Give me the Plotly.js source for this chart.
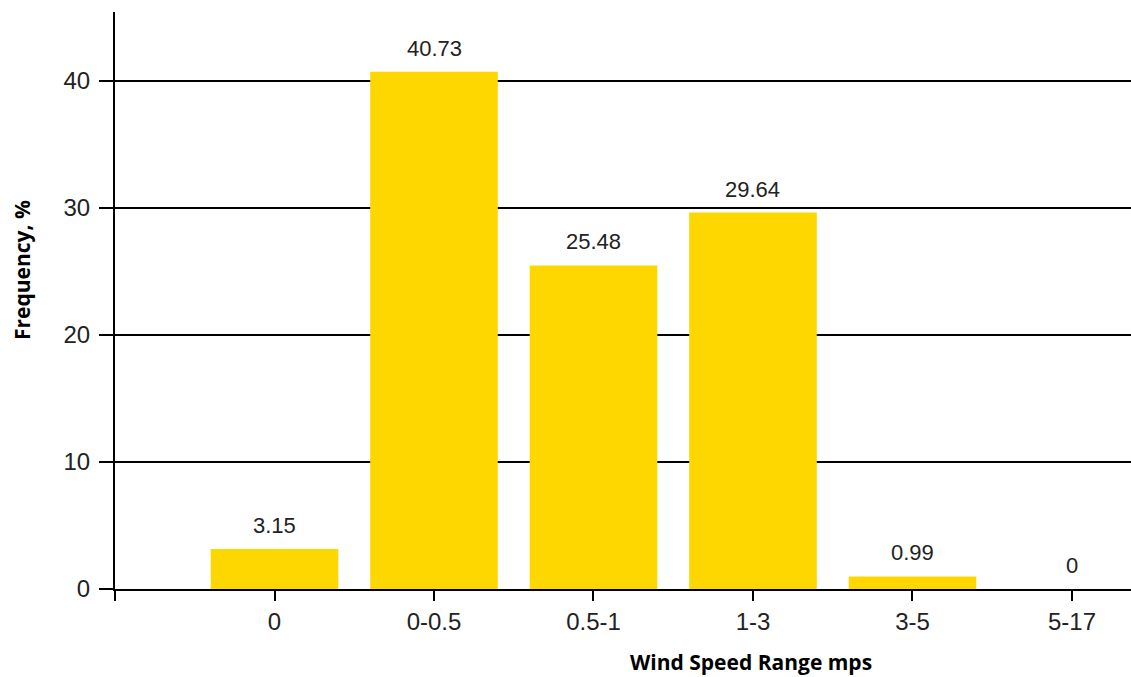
<!DOCTYPE html>
<html>
<head>
<meta charset="utf-8">
<script src="https://cdn.plot.ly/plotly-3.0.1.min.js"></script>
<style>html,body{margin:0;padding:0;background:#fff;}#chart{width:1131px;height:677px;}</style>
</head>
<body>
<div id="chart"></div>
<script>
const categories = ["0", "0-0.5", "0.5-1", "1-3", "3-5", "5-17"];
const frequency = [3.15, 40.73, 25.48, 29.64, 0.99, 0];
const valueLabels = ["3.15", "40.73", "25.48", "29.64", "0.99", "0"];
const yTicks = [0, 10, 20, 30, 40];

const xIdx = categories.map((c, i) => i);

const trace = {
  type: "bar",
  x: xIdx,
  y: frequency,
  width: 0.8,
  marker: {color: "#FFD700", line: {width: 0}},
  hoverinfo: "skip"
};

const annotations = xIdx.map((x, i) => ({
  x: x, y: frequency[i], xref: "x", yref: "y",
  text: valueLabels[i], showarrow: false,
  yanchor: "bottom", yshift: 9,
  font: {family: "Liberation Sans, Arial, sans-serif", size: 22, color: "#222"}
}));
annotations.push({
  xref: "paper", yref: "paper", x: 0.626, y: -0.1265,
  text: "<b>Wind Speed Range mps</b>", showarrow: false,
  xanchor: "center", yanchor: "middle", borderpad: 0,
  font: {family: "Open Sans, sans-serif", size: 21, color: "#000"}
});
annotations.push({
  xref: "paper", yref: "paper", x: -0.0915, y: 0.553,
  text: "<b>Frequency, %</b>", showarrow: false, textangle: -90,
  xanchor: "center", yanchor: "middle",
  font: {family: "Open Sans, sans-serif", size: 21, color: "#000"}
});

const layout = {
  width: 1131, height: 677,
  margin: {l: 115, r: 0, t: 12, b: 88, pad: 0},
  paper_bgcolor: "#fff", plot_bgcolor: "#fff",
  showlegend: false,
  bargap: 0.2,
  xaxis: {
    type: "linear",
    range: [-1, 5.37],
    tickvals: [-1].concat(xIdx),
    ticktext: [""].concat(categories),
    ticks: "outside", ticklen: 10, tickwidth: 2, tickcolor: "#000",
    showline: true, linecolor: "#000", linewidth: 2,
    showgrid: false, zeroline: false,
    tickfont: {family: "Liberation Sans, Arial, sans-serif", size: 24, color: "#222"},
    fixedrange: true
  },
  yaxis: {
    range: [0, 45.43],
    tickvals: yTicks,
    ticks: "outside", ticklen: 14, tickwidth: 2, tickcolor: "#000",
    showline: true, linecolor: "#000", linewidth: 2,
    showgrid: true, gridcolor: "#000", gridwidth: 2,
    zeroline: false,
    tickfont: {family: "Liberation Sans, Arial, sans-serif", size: 24, color: "#222"},
    ticklabelstandoff: 4,
    fixedrange: true
  },
  annotations: annotations
};

Plotly.newPlot("chart", [trace], layout, {displayModeBar: false, staticPlot: true});
</script>
</body>
</html>
